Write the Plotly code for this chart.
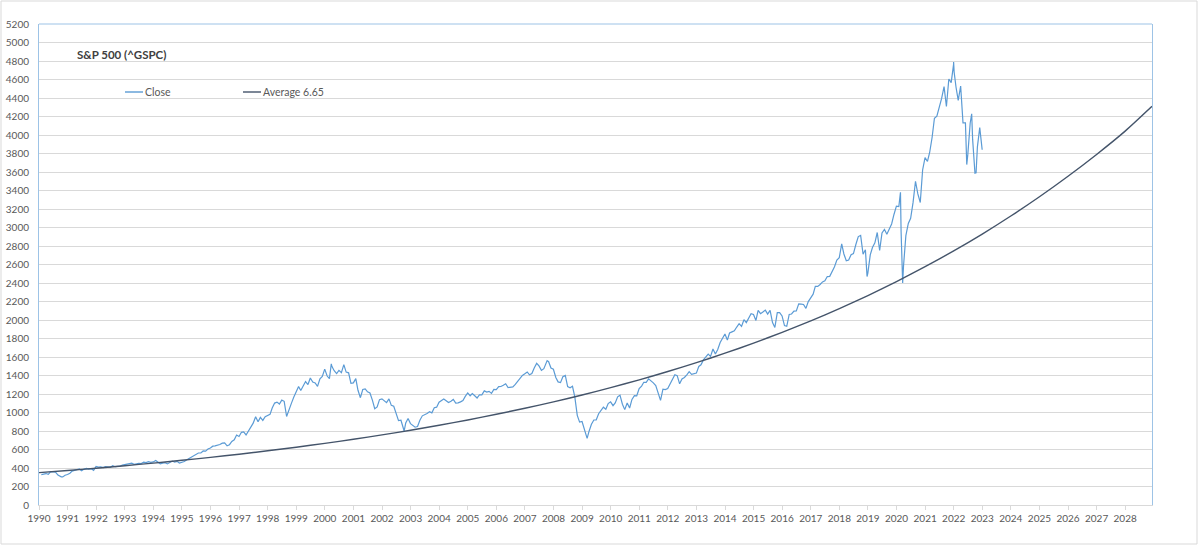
import pandas as pd
import plotly.graph_objects as go

# monthly closes of the S&P 500, Jan 1990 .. Dec 2022
close_1990s = [
    329, 332, 340, 331, 361, 358, 356, 323, 306, 304, 322, 330,
    344, 367, 375, 375, 390, 371, 388, 395, 388, 392, 375, 417,
    409, 413, 404, 415, 415, 408, 424, 414, 418, 419, 431, 436,
    439, 443, 452, 440, 450, 451, 448, 464, 459, 468, 462, 466,
    482, 467, 446, 451, 457, 444, 458, 475, 463, 472, 454, 459,
    470, 487, 501, 515, 533, 545, 562, 562, 584, 582, 605, 616,
    636, 640, 645, 654, 669, 671, 640, 652, 687, 705, 757, 741,
    786, 791, 757, 801, 848, 885, 954, 899, 947, 915, 955, 970,
    980, 1049, 1102, 1112, 1091, 1134, 1121, 957, 1017, 1099, 1164, 1229,
    1280, 1238, 1286, 1335, 1302, 1373, 1329, 1320, 1283, 1363, 1389, 1469,
]
close_2000s = [
    1394, 1366, 1499, 1452, 1421, 1455, 1431, 1518, 1437, 1429, 1315, 1320,
    1366, 1240, 1160, 1249, 1256, 1224, 1211, 1134, 1041, 1060, 1139, 1148,
    1130, 1107, 1147, 1077, 1067, 990, 912, 916, 815, 886, 936, 880,
    856, 841, 848, 917, 964, 975, 990, 1008, 996, 1051, 1058, 1112,
    1131, 1145, 1126, 1107, 1121, 1141, 1102, 1104, 1115, 1130, 1174, 1212,
    1181, 1204, 1181, 1157, 1192, 1191, 1234, 1220, 1229, 1207, 1249, 1248,
    1280, 1281, 1295, 1311, 1270, 1270, 1277, 1304, 1336, 1378, 1401, 1418,
    1438, 1407, 1421, 1482, 1531, 1503, 1455, 1474, 1527, 1549, 1481, 1468,
    1379, 1331, 1323, 1386, 1400, 1280, 1267, 1283, 1166, 969, 896, 903,
    826, 735, 798, 873, 919, 919, 987, 1021, 1057, 1036, 1096, 1115,
]
close_2010s = [
    1074, 1104, 1169, 1187, 1089, 1031, 1102, 1049, 1141, 1183, 1181, 1258,
    1286, 1327, 1326, 1364, 1345, 1321, 1292, 1219, 1131, 1253, 1247, 1258,
    1312, 1366, 1408, 1398, 1310, 1362, 1379, 1407, 1441, 1412, 1416, 1426,
    1498, 1515, 1569, 1598, 1631, 1606, 1686, 1633, 1682, 1757, 1806, 1848,
    1783, 1859, 1872, 1884, 1924, 1960, 1931, 2003, 1972, 2018, 2068, 2059,
    1995, 2105, 2068, 2086, 2107, 2063, 2104, 1972, 1920, 2079, 2080, 2044,
    1940, 1932, 2060, 2065, 2097, 2099, 2174, 2171, 2168, 2126, 2199, 2239,
    2279, 2364, 2363, 2384, 2412, 2423, 2470, 2472, 2519, 2575, 2648, 2674,
    2824, 2714, 2641, 2648, 2705, 2718, 2816, 2902, 2914, 2712, 2760, 2507,
    2704, 2784, 2834, 2946, 2752, 2942, 2980, 2926, 2977, 3038, 3141, 3231,
]
close_2020s = [
    3226, 2954, 2585, 2912, 3044, 3100, 3271, 3500, 3363, 3270, 3622, 3756,
    3714, 3811, 3973, 4181, 4204, 4298, 4395, 4523, 4308, 4605, 4567, 4766,
    4516, 4374, 4530, 4132, 4132, 3785, 4130, 3955, 3586, 3872, 4080, 3840,
]

# a few weekly extremes that show in the chart between month ends
week_dates = ["1990-10-12", "2000-03-24", "2002-10-11", "2007-10-12", "2009-03-06",
              "2018-12-21", "2020-02-21", "2020-03-20", "2021-12-31", "2022-01-07",
              "2022-06-17", "2022-08-19", "2022-10-14"]
week_close = [305, 1527, 800, 1561, 720, 2470, 3380, 2400, 4790, 4680,
              3680, 4230, 3590]

# fitted average (6.65 % a year), read at the start of each year
avg_years = list(range(1990, 2029)) + [2028.94]
avg_values = [350, 373, 398, 425, 453, 483, 515, 549, 586, 625,
              666, 711, 758, 808, 862, 919, 981, 1046, 1115, 1189,
              1269, 1353, 1443, 1539, 1641, 1750, 1867, 1991, 2123, 2264,
              2415, 2576, 2747, 2929, 3124, 3332, 3554, 3790, 4042, 4310]

monthly = close_1990s + close_2000s + close_2010s + close_2020s
close = pd.Series(monthly, index=pd.date_range("1990-01-31", periods=len(monthly), freq="ME"))
close = pd.concat([close, pd.Series(week_close, index=pd.to_datetime(week_dates))]).sort_index()

avg_dates = [pd.Timestamp(int(y), 1, 1) + pd.Timedelta(days=(y - int(y)) * 365) for y in avg_years]

blue = "#5B9BD5"
dark = "#44546A"
grid = "#D9D9D9"
txt = "#595959"
border = "#9DC3E6"
font = "Lato"

fig = go.Figure()
fig.add_trace(go.Scatter(x=close.index, y=close.values, mode="lines", name="Close",
                         line=dict(color=blue, width=1.2)))
fig.add_trace(go.Scatter(x=avg_dates, y=avg_values, mode="lines", name="Average 6.65",
                         line=dict(color=dark, width=1.4, shape="spline", smoothing=0.6)))

ticks = [pd.Timestamp(y, 1, 1) for y in range(1990, 2029)]
fig.update_xaxes(range=[pd.Timestamp(1990, 1, 1), avg_dates[-1]],
                 tickvals=ticks, ticktext=[str(t.year) for t in ticks],
                 ticks="outside", ticklen=4, tickcolor=grid, showgrid=False,
                 showline=True, linecolor=grid, linewidth=1, automargin=False,
                 tickfont=dict(family=font, size=10, color=txt), tickangle=0)
fig.update_yaxes(range=[0, 5200], dtick=200, gridcolor=grid, gridwidth=1,
                 showline=True, linecolor=border, linewidth=1, mirror=True,
                 zeroline=False, ticks="", ticklabelstandoff=7, automargin=False,
                 tickfont=dict(family=font, size=10, color=txt))

# top border of the plot area and the outer chart frame
fig.add_shape(type="line", xref="paper", yref="paper", x0=0, x1=1, y0=1, y1=1,
              line=dict(color=border, width=1))
W, H, L, R, T, B = 1200, 545, 39, 48, 24, 40
pw, ph = W - L - R, H - T - B
fig.add_shape(type="rect", xref="paper", yref="paper",
              x0=-(L - 1) / pw, x1=(pw + R - 3) / pw, y0=-(B - 1) / ph, y1=(ph + T - 1) / ph,
              line=dict(color=grid, width=1))

fig.add_annotation(text="<b>S&P 500 (^GSPC)</b>", xref="paper", yref="paper",
                   x=(75 - L) / pw, y=(505 - 55) / ph, xanchor="left", yanchor="middle",
                   showarrow=False, font=dict(family=font, size=11.5, color="#404040"))

# legend drawn by hand to copy the short Excel swatches
for label, col, x0 in [("Close", blue, 125), ("Average 6.65", dark, 243)]:
    fig.add_shape(type="line", xref="paper", yref="paper",
                  x0=(x0 - L) / pw, x1=(x0 + 18 - L) / pw, y0=(505 - 92) / ph, y1=(505 - 92) / ph,
                  line=dict(color=col, width=1.4))
    fig.add_annotation(text=label, xref="paper", yref="paper",
                       x=(x0 + 18 - L) / pw, y=(505 - 92) / ph, xanchor="left", yanchor="middle",
                       showarrow=False, font=dict(family=font, size=10.5, color=txt))

fig.update_layout(width=W, height=H, margin=dict(l=L, r=R, t=T, b=B),
                  plot_bgcolor="white", paper_bgcolor="white", showlegend=False)

# the page body has an 8px margin by default; drop it so the chart fills the window
fig.write_html("out.html", config={"displayModeBar": False},
               post_script="document.body.style.margin = '0';")
